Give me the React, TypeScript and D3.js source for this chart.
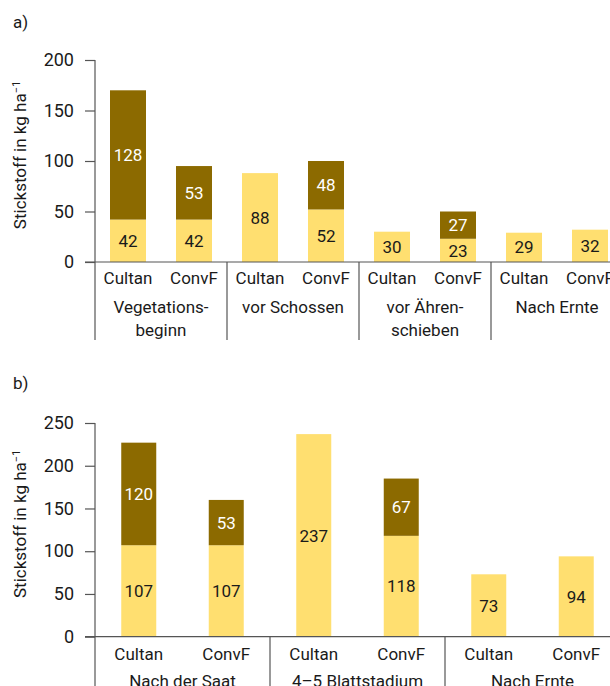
import React, { useEffect, useRef } from "react";
import * as d3 from "d3";

const methods = ["Cultan", "ConvF"];

const groupsA = ["Vegetations-|beginn", "vor Schossen", "vor Ähren-|schieben", "Nach Ernte"];
const baseA = [42, 42, 88, 52, 30, 23, 29, 32];
const topA = [128, 53, 0, 48, 0, 27, 0, 0];
const ticksA = [0, 50, 100, 150, 200];

const groupsB = ["Nach der Saat", "4–5 Blattstadium", "Nach Ernte"];
const baseB = [107, 107, 237, 118, 73, 94];
const topB = [120, 53, 0, 67, 0, 0];
const ticksB = [0, 50, 100, 150, 200, 250];

const YELLOW = "#FFDF70";
const BROWN = "#8C6A00";
const TEXT = "#1a1a1a";
const AXIS = "#555";
const FONT = "Roboto, 'Noto Sans', sans-serif";

type PanelProps = {
  label: string;
  labelY: number;
  groups: string[];
  base: number[];
  top: number[];
  ticks: number[];
  yMax: number;
  y0: number;
  y1: number;
  xRight: number;
  barW: number;
  axisBottom: number;
  catY: number;
  groupY: number;
};

function Panel(p: PanelProps) {
  const axisRef = useRef<SVGGElement>(null);
  const y = d3.scaleLinear().domain([0, p.yMax]).range([p.y0, p.y1]);
  const gx = d3.scaleBand<string>().domain(p.groups).range([95, p.xRight]).padding(0);
  const mx = d3.scaleBand<string>().domain(methods).range([0, gx.bandwidth()]).padding(0);

  useEffect(() => {
    if (!axisRef.current) return;
    const g = d3.select(axisRef.current);
    g.selectAll("*").remove();
    g.call(d3.axisLeft(y).tickValues(p.ticks).tickSize(10).tickPadding(11).tickFormat(d3.format("d")));
    g.select(".domain").remove();
    g.selectAll(".tick line").attr("stroke", AXIS).attr("stroke-width", 1.2);
    g.selectAll(".tick text")
      .attr("fill", TEXT)
      .style("font-family", FONT)
      .style("font-size", "18px");
  });

  const bars: any[] = [];
  p.groups.forEach((grp, gi) => {
    methods.forEach((m, mi) => {
      const i = gi * 2 + mi;
      const cx = (gx(grp) as number) + (mx(m) as number) + mx.bandwidth() / 2;
      const b = p.base[i];
      const t = p.top[i];
      bars.push(
        <g key={`b${i}`}>
          <rect x={cx - p.barW / 2} y={y(b)} width={p.barW} height={y(0) - y(b)} fill={YELLOW} />
          <text x={cx} y={(y(b) + y(0)) / 2} dy="0.36em" textAnchor="middle" fill={TEXT} fontSize={17}>
            {b}
          </text>
          {t > 0 && (
            <>
              <rect x={cx - p.barW / 2} y={y(b + t)} width={p.barW} height={y(b) - y(b + t)} fill={BROWN} />
              <text x={cx} y={(y(b + t) + y(b)) / 2} dy="0.36em" textAnchor="middle" fill="#fff" fontSize={17}>
                {t}
              </text>
            </>
          )}
          <text x={cx} y={p.catY} textAnchor="middle" fill={TEXT} fontSize={17}>
            {m}
          </text>
        </g>
      );
    });
  });

  return (
    <g fontFamily={FONT}>
      <text x={13} y={p.labelY} fill={TEXT} fontSize={17}>
        {p.label}
      </text>
      <text
        transform={`translate(26,${(p.y0 + p.y1) / 2 - 6}) rotate(-90)`}
        textAnchor="middle"
        fill={TEXT}
        fontSize={17}
      >
        Stickstoff in kg ha<tspan dy="-6" fontSize={11}>−1</tspan>
      </text>
      <g ref={axisRef} transform="translate(95,0)" />
      {bars}
      <line x1={85} x2={610} y1={y(0)} y2={y(0)} stroke={AXIS} strokeWidth={1.2} />
      <line x1={95} x2={95} y1={y(p.yMax)} y2={p.axisBottom} stroke={AXIS} strokeWidth={1.2} />
      {p.groups.slice(1).map((grp) => (
        <line key={grp} x1={gx(grp)} x2={gx(grp)} y1={y(0)} y2={p.axisBottom} stroke={AXIS} strokeWidth={1.2} />
      ))}
      {p.groups.map((grp) => {
        const cx = (gx(grp) as number) + gx.bandwidth() / 2;
        const lines = grp.split("|");
        return (
          <text key={grp} x={cx} y={p.groupY} textAnchor="middle" fill={TEXT} fontSize={17}>
            {lines.map((l, k) => (
              <tspan key={k} x={cx} dy={k === 0 ? 0 : 23}>
                {l}
              </tspan>
            ))}
          </text>
        );
      })}
    </g>
  );
}

export default function App() {
  return (
    <svg width={610} height={686} style={{ position: "absolute", left: 0, top: 0, background: "#fff" }}>
      <Panel
        label="a)"
        labelY={28}
        groups={groupsA}
        base={baseA}
        top={topA}
        ticks={ticksA}
        yMax={200}
        y0={262}
        y1={60}
        xRight={95 + 4 * 132}
        barW={36}
        axisBottom={340}
        catY={284}
        groupY={313}
      />
      <Panel
        label="b)"
        labelY={389}
        groups={groupsB}
        base={baseB}
        top={topB}
        ticks={ticksB}
        yMax={250}
        y0={636.7}
        y1={423}
        xRight={95 + 3 * 175}
        barW={35}
        axisBottom={686}
        catY={660}
        groupY={687}
      />
    </svg>
  );
}
